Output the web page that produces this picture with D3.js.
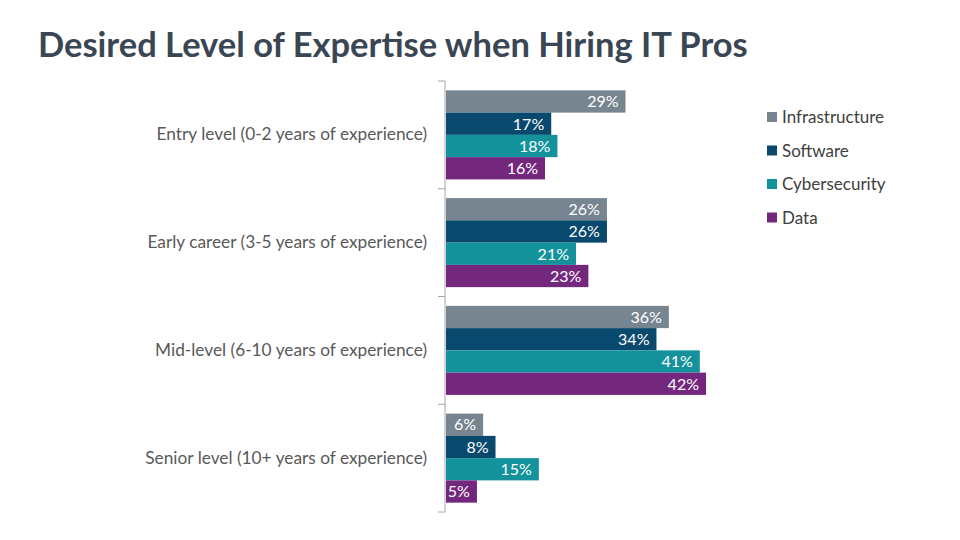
<!DOCTYPE html>
<html><head><meta charset="utf-8">
<script src="https://cdn.jsdelivr.net/npm/d3@7"></script>
<style>body{margin:0;background:#fff}svg{display:block}</style>
</head><body>
<svg id="c" width="960" height="540"></svg>
<script>
const categories = ["Entry level (0-2 years of experience)","Early career (3-5 years of experience)","Mid-level (6-10 years of experience)","Senior level (10+ years of experience)"];
const seriesNames = ["Infrastructure","Software","Cybersecurity","Data"];
const infrastructure = [29,26,36,6];
const software = [17,26,34,8];
const cybersecurity = [18,21,41,15];
const data = [16,23,42,5];
const colors = ["#778591","#0a496e","#13929c","#73287e"];
const title = "Desired Level of Expertise when Hiring IT Pros";

const series = [infrastructure, software, cybersecurity, data];
const svg = d3.select("#c");
const font = "Lato, 'Open Sans', sans-serif";

svg.append("text").attr("x",38).attr("y",57).attr("font-family",font).attr("font-weight",700)
  .attr("font-size",34.5).attr("fill","#3a4653").text(title);

const x0 = 446;
const xs = d3.scaleLinear().domain([0,42]).range([x0, x0+260]);
const y = d3.scaleBand().domain(categories).range([81,512]);
const yi = d3.scaleBand().domain(seriesNames).range([0, y.bandwidth()]).paddingOuter(0.42).paddingInner(0);

const g = svg.append("g");
categories.forEach((c,ci)=>{
  const gg = g.append("g").attr("transform",`translate(0,${y(c)})`);
  seriesNames.forEach((s,si)=>{
    const v = series[si][ci];
    gg.append("rect").attr("x",x0).attr("y",yi(s)).attr("width",xs(v)-x0).attr("height",yi.bandwidth()).attr("fill",colors[si]);
    gg.append("text").attr("x",xs(v)-7).attr("y",yi(s)+yi.bandwidth()/2).attr("dy","0.36em")
      .attr("text-anchor","end").attr("fill","#fff").attr("font-family",font).attr("font-size",16).text(v+"%");
  });
});

// axis
const ax = svg.append("g").attr("transform",`translate(${x0-1},0)`)
  .call(d3.axisLeft(y).tickSize(0).tickPadding(18));
ax.select(".domain").attr("stroke","#a6a6a6").attr("d",`M0,81V512`);
ax.selectAll("text").attr("font-family",font).attr("font-size",17.3).attr("fill","#595959");
// boundary ticks
const bounds = categories.map(c=>y(c)).concat([y.range()[1]]);
svg.append("g").selectAll("line").data(bounds).join("line")
  .attr("x1",x0-8).attr("x2",x0-1).attr("y1",d=>d).attr("y2",d=>d).attr("stroke","#a6a6a6");

// legend
const lg = svg.append("g").attr("transform","translate(767,117)");
seriesNames.forEach((s,i)=>{
  const r = lg.append("g").attr("transform",`translate(0,${i*33.5})`);
  r.append("rect").attr("x",0).attr("y",-5).attr("width",10).attr("height",10).attr("fill",colors[i]);
  r.append("text").attr("x",15).attr("y",0).attr("dy","0.36em").attr("font-family",font).attr("font-size",17).attr("fill","#404040").text(s);
});
</script>
</body></html>
